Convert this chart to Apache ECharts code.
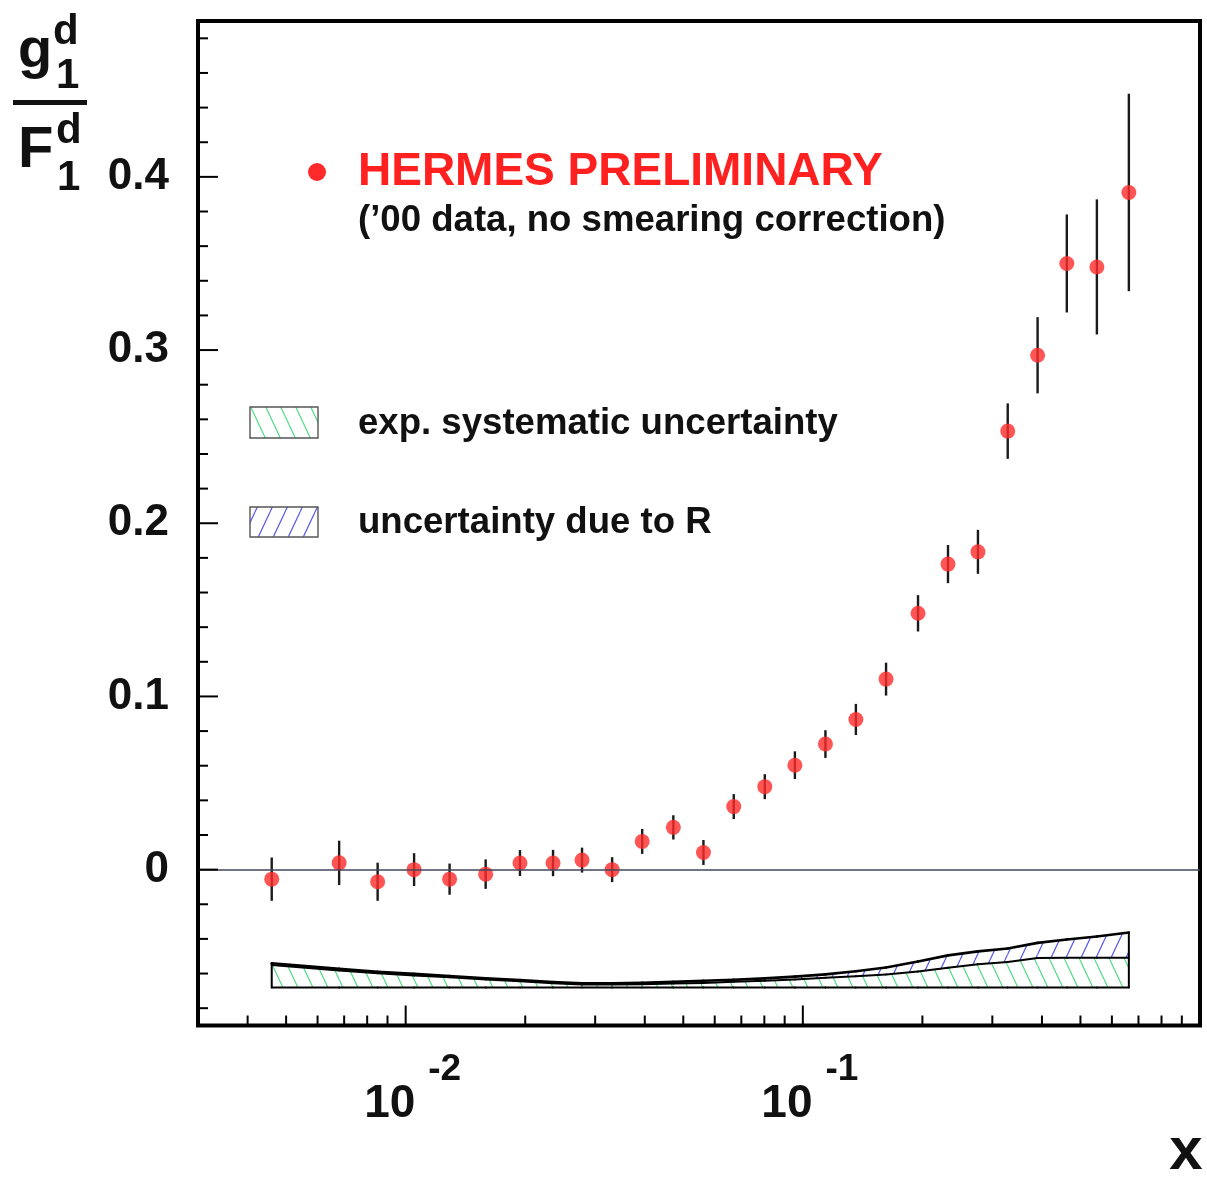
<!DOCTYPE html>
<html>
<head>
<meta charset="utf-8">
<script src="https://cdn.jsdelivr.net/npm/echarts@6/dist/echarts.min.js"></script>
<style>
  html, body { margin: 0; padding: 0; background: #ffffff; }
  #chart { width: 1207px; height: 1180px; }
</style>
</head>
<body>
<div id="chart"></div>
<script>
// Bjorken x of each bin
const xValues = [0.0046, 0.0068, 0.0085, 0.0105, 0.0129, 0.0159, 0.0194, 0.0235, 0.0278, 0.0331,
                 0.0394, 0.0472, 0.0562, 0.0670, 0.0802, 0.0955, 0.114, 0.136, 0.162, 0.195,
                 0.232, 0.276, 0.328, 0.390, 0.462, 0.550, 0.662];
// g1/F1 for the deuteron
const ratio = [-0.0055, 0.0039, -0.0070, 0.0000, -0.0055, -0.0026, 0.0038, 0.0038, 0.0055, 0.0000,
               0.0163, 0.0244, 0.0099, 0.0364, 0.0479, 0.0603, 0.0725, 0.0867, 0.1100, 0.1480,
               0.1764, 0.1835, 0.2532, 0.2970, 0.3500, 0.3480, 0.3910];
// statistical error
const statErr = [0.0125, 0.0128, 0.0110, 0.0095, 0.0090, 0.0085, 0.0075, 0.0076, 0.0072, 0.0072,
                 0.0072, 0.0070, 0.0072, 0.0072, 0.0072, 0.0080, 0.0080, 0.0090, 0.0095, 0.0105,
                 0.0110, 0.0127, 0.0160, 0.0220, 0.0283, 0.0390, 0.0570];
// experimental systematic uncertainty (band height)
const sysErr = [0.0130, 0.0098, 0.0081, 0.0069, 0.0058, 0.0046, 0.0035, 0.0024, 0.0017, 0.0017,
                0.0018, 0.0023, 0.0026, 0.0032, 0.0038, 0.0046, 0.0055, 0.0064, 0.0075, 0.0092,
                0.0113, 0.0133, 0.0147, 0.0170, 0.0171, 0.0171, 0.0171];
// uncertainty due to R (band height, stacked on top of the systematic band)
const rErr = [0.0009, 0.0009, 0.0009, 0.0009, 0.0008, 0.0007, 0.0007, 0.0007, 0.0006, 0.0006,
              0.0008, 0.0009, 0.0012, 0.0012, 0.0014, 0.0016, 0.0020, 0.0029, 0.0040, 0.0058,
              0.0072, 0.0075, 0.0078, 0.0087, 0.0106, 0.0123, 0.0146];
const bandBase = -0.068;

// axis ranges and ticks
const X_MIN = 0.003, X_MAX = 1;
const Y_MIN = -0.09, Y_MAX = 0.49;
const xMajorTicks = [0.01, 0.1];
const xMinorTicks = [0.004, 0.005, 0.006, 0.007, 0.008, 0.009,
                     0.02, 0.03, 0.04, 0.05, 0.06, 0.07, 0.08, 0.09,
                     0.2, 0.3, 0.4, 0.5, 0.6, 0.7, 0.8, 0.9];
const xLabelValues = [0.01, 0.1];
const xLabelExps = ['-2', '-1'];
const yMajorTicks = [0, 0.1, 0.2, 0.3, 0.4];
const yMinorTicks = [-0.08, -0.06, -0.04, -0.02, 0.02, 0.04, 0.06, 0.08, 0.12, 0.14, 0.16, 0.18,
                     0.22, 0.24, 0.26, 0.28, 0.32, 0.34, 0.36, 0.38, 0.42, 0.44, 0.46, 0.48];
const yLabelValues = [0, 0.1, 0.2, 0.3, 0.4];

const FONT = '"Liberation Sans", Arial, Helvetica, sans-serif';

// diagonal hatch fill
function hatch(color, leaning) {
  const W = 15, H = 32;
  const c = document.createElement('canvas');
  c.width = W; c.height = H;
  const g = c.getContext('2d');
  g.strokeStyle = color;
  g.lineWidth = 1.2;
  g.beginPath();
  for (let k = -1; k <= 1; k++) {
    if (leaning === 'back') {        // "\"
      g.moveTo(k * W, 0); g.lineTo(k * W + W, H);
    } else {                          // "/"
      g.moveTo(k * W, H); g.lineTo(k * W + W, 0);
    }
  }
  g.stroke();
  return { image: c, repeat: 'repeat' };
}
const greenHatch = hatch('#55dd88', 'back');
const blueHatch = hatch('#5a5aee', 'fwd');

const chart = echarts.init(document.getElementById('chart'), null, { renderer: 'canvas' });

const bandSegments = xValues.slice(0, -1).map((x, i) => [
  x, xValues[i + 1], sysErr[i], sysErr[i + 1], rErr[i], rErr[i + 1]
]);

const option = {
  animation: false,
  backgroundColor: '#ffffff',
  grid: {
    left: 198, right: 7, top: 21, bottom: 154.5,
    show: true, borderColor: '#000', borderWidth: 4, backgroundColor: 'transparent'
  },
  xAxis: {
    type: 'log', logBase: 10, min: X_MIN, max: X_MAX,
    axisLine: { show: false }, axisTick: { show: false }, splitLine: { show: false },
    axisLabel: {
      margin: 26,
      padding: [0, 0, 0, 14],
      formatter: function (v) {
        for (let i = 0; i < xLabelValues.length; i++) {
          if (Math.abs(Math.log10(v) - Math.log10(xLabelValues[i])) < 1e-6) {
            return '{b|10}{e|' + xLabelExps[i] + '}';
          }
        }
        return '';
      },
      rich: {
        b: { fontFamily: FONT, fontWeight: 'bold', fontSize: 46, color: '#111', verticalAlign: 'bottom', padding: [30, 0, 0, 0] },
        e: { fontFamily: FONT, fontWeight: 'bold', fontSize: 37, color: '#111', verticalAlign: 'top', padding: [0, 0, 0, 13] }
      }
    }
  },
  yAxis: {
    type: 'value', min: Y_MIN, max: Y_MAX,
    axisLine: { show: false }, axisTick: { show: false }, splitLine: { show: false },
    axisLabel: {
      margin: 29,
      fontFamily: FONT, fontWeight: 'bold', fontSize: 44, color: '#111',
      formatter: function (v) {
        for (const t of yLabelValues) {
          if (Math.abs(v - t) < 1e-9) return t === 0 ? '0' : t.toFixed(1);
        }
        return '';
      }
    }
  },
  series: [
    {
      // systematic and R uncertainty bands
      type: 'custom',
      name: 'bands',
      clip: false,
      data: bandSegments,
      renderItem: function (params, api) {
        const x0 = api.value(0), x1 = api.value(1);
        const s0 = api.value(2), s1 = api.value(3);
        const r0 = api.value(4), r1 = api.value(5);
        const b0 = api.coord([x0, bandBase]), b1 = api.coord([x1, bandBase]);
        const m0 = api.coord([x0, bandBase + s0]), m1 = api.coord([x1, bandBase + s1]);
        const t0 = api.coord([x0, bandBase + s0 + r0]), t1 = api.coord([x1, bandBase + s1 + r1]);
        const line = (a, b, w) => ({
          type: 'line', shape: { x1: a[0], y1: a[1], x2: b[0], y2: b[1] },
          style: { stroke: '#000', lineWidth: w, lineCap: 'round' }
        });
        const children = [
          { type: 'polygon', shape: { points: [b0, b1, m1, m0] }, style: { fill: greenHatch } },
          { type: 'polygon', shape: { points: [m0, m1, t1, t0] }, style: { fill: blueHatch } },
          line(b0, b1, 2),
          line(m0, m1, 2),
          line(t0, t1, 2.6)
        ];
        if (params.dataIndex === 0) children.push(line(b0, t0, 2));
        if (params.dataIndex === bandSegments.length - 1) children.push(line(b1, t1, 2));
        return { type: 'group', children: children };
      },
      z: 2
    },
    {
      // statistical error bars
      type: 'custom',
      name: 'errors',
      data: xValues.map((x, i) => [x, ratio[i], statErr[i]]),
      renderItem: function (params, api) {
        const x = api.value(0), y = api.value(1), e = api.value(2);
        const lo = api.coord([x, y - e]), hi = api.coord([x, y + e]);
        return {
          type: 'line', shape: { x1: lo[0], y1: lo[1], x2: hi[0], y2: hi[1] },
          style: { stroke: '#1a1a1a', lineWidth: 2.4 }
        };
      },
      z: 3
    },
    {
      type: 'scatter',
      name: 'HERMES PRELIMINARY',
      data: xValues.map((x, i) => [x, ratio[i]]),
      symbol: 'circle',
      symbolSize: 15,
      itemStyle: { color: '#ff2a2a' },
      markLine: {
        silent: true, symbol: 'none', label: { show: false },
        lineStyle: { color: '#44465a', width: 1.6, type: 'solid' },
        data: [{ yAxis: 0 }]
      },
      z: 4
    },
    {
      // x ticks on the bottom axis, pointing inward
      type: 'custom',
      name: 'xticks',
      clip: false,
      data: xMajorTicks.map(v => [v, 1]).concat(xMinorTicks.map(v => [v, 0])),
      renderItem: function (params, api) {
        const p = api.coord([api.value(0), Y_MIN]);
        const len = api.value(1) ? 20 : 10;
        return {
          type: 'line', shape: { x1: p[0], y1: p[1], x2: p[0], y2: p[1] - len },
          style: { stroke: '#000', lineWidth: 2 }
        };
      },
      z: 5
    },
    {
      // y ticks on the left axis, pointing inward
      type: 'custom',
      name: 'yticks',
      clip: false,
      data: yMajorTicks.map(v => [X_MIN, v, 1]).concat(yMinorTicks.map(v => [X_MIN, v, 0])),
      renderItem: function (params, api) {
        const p = api.coord([X_MIN, api.value(1)]);
        const len = api.value(2) ? 20 : 10;
        return {
          type: 'line', shape: { x1: p[0], y1: p[1], x2: p[0] + len, y2: p[1] },
          style: { stroke: '#000', lineWidth: 2 }
        };
      },
      z: 5
    }
  ],
  graphic: [
    // y axis title: g1^d / F1^d
    { type: 'text', x: 18, y: 52, style: { text: 'g', font: 'bold 56px ' + FONT, fill: '#111', verticalAlign: 'middle' } },
    { type: 'text', x: 53, y: 32, style: { text: 'd', font: 'bold 42px ' + FONT, fill: '#111', verticalAlign: 'middle' } },
    { type: 'text', x: 56, y: 76, style: { text: '1', font: 'bold 42px ' + FONT, fill: '#111', verticalAlign: 'middle' } },
    { type: 'rect', shape: { x: 13, y: 100, width: 74, height: 5 }, style: { fill: '#111' } },
    { type: 'text', x: 18, y: 151, style: { text: 'F', font: 'bold 58px ' + FONT, fill: '#111', verticalAlign: 'middle' } },
    { type: 'text', x: 56, y: 131, style: { text: 'd', font: 'bold 42px ' + FONT, fill: '#111', verticalAlign: 'middle' } },
    { type: 'text', x: 57, y: 178, style: { text: '1', font: 'bold 42px ' + FONT, fill: '#111', verticalAlign: 'middle' } },
    // x axis title
    { type: 'text', x: 1186, y: 1152, style: { text: 'x', font: 'bold 60px ' + FONT, fill: '#111', align: 'center', verticalAlign: 'middle' } },
    // legend
    { type: 'circle', shape: { cx: 317, cy: 172, r: 9 }, style: { fill: '#ff2a2a' } },
    { type: 'text', x: 358, y: 172, style: { text: 'HERMES PRELIMINARY', font: 'bold 46px ' + FONT, fill: '#ff2020', verticalAlign: 'middle' } },
    { type: 'text', x: 358, y: 221, style: { text: '(\u201900 data, no smearing correction)', font: 'bold 36.6px ' + FONT, fill: '#111', verticalAlign: 'middle' } },
    { type: 'rect', shape: { x: 250, y: 407, width: 68, height: 31 }, style: { fill: greenHatch, stroke: '#555', lineWidth: 1.4 } },
    { type: 'text', x: 358, y: 424, style: { text: 'exp. systematic uncertainty', font: 'bold 36.6px ' + FONT, fill: '#111', verticalAlign: 'middle' } },
    { type: 'rect', shape: { x: 250, y: 507, width: 68, height: 30 }, style: { fill: blueHatch, stroke: '#555', lineWidth: 1.4 } },
    { type: 'text', x: 358, y: 523, style: { text: 'uncertainty due to R', font: 'bold 36.6px ' + FONT, fill: '#111', verticalAlign: 'middle' } }
  ]
};

chart.setOption(option);
</script>
</body>
</html>
